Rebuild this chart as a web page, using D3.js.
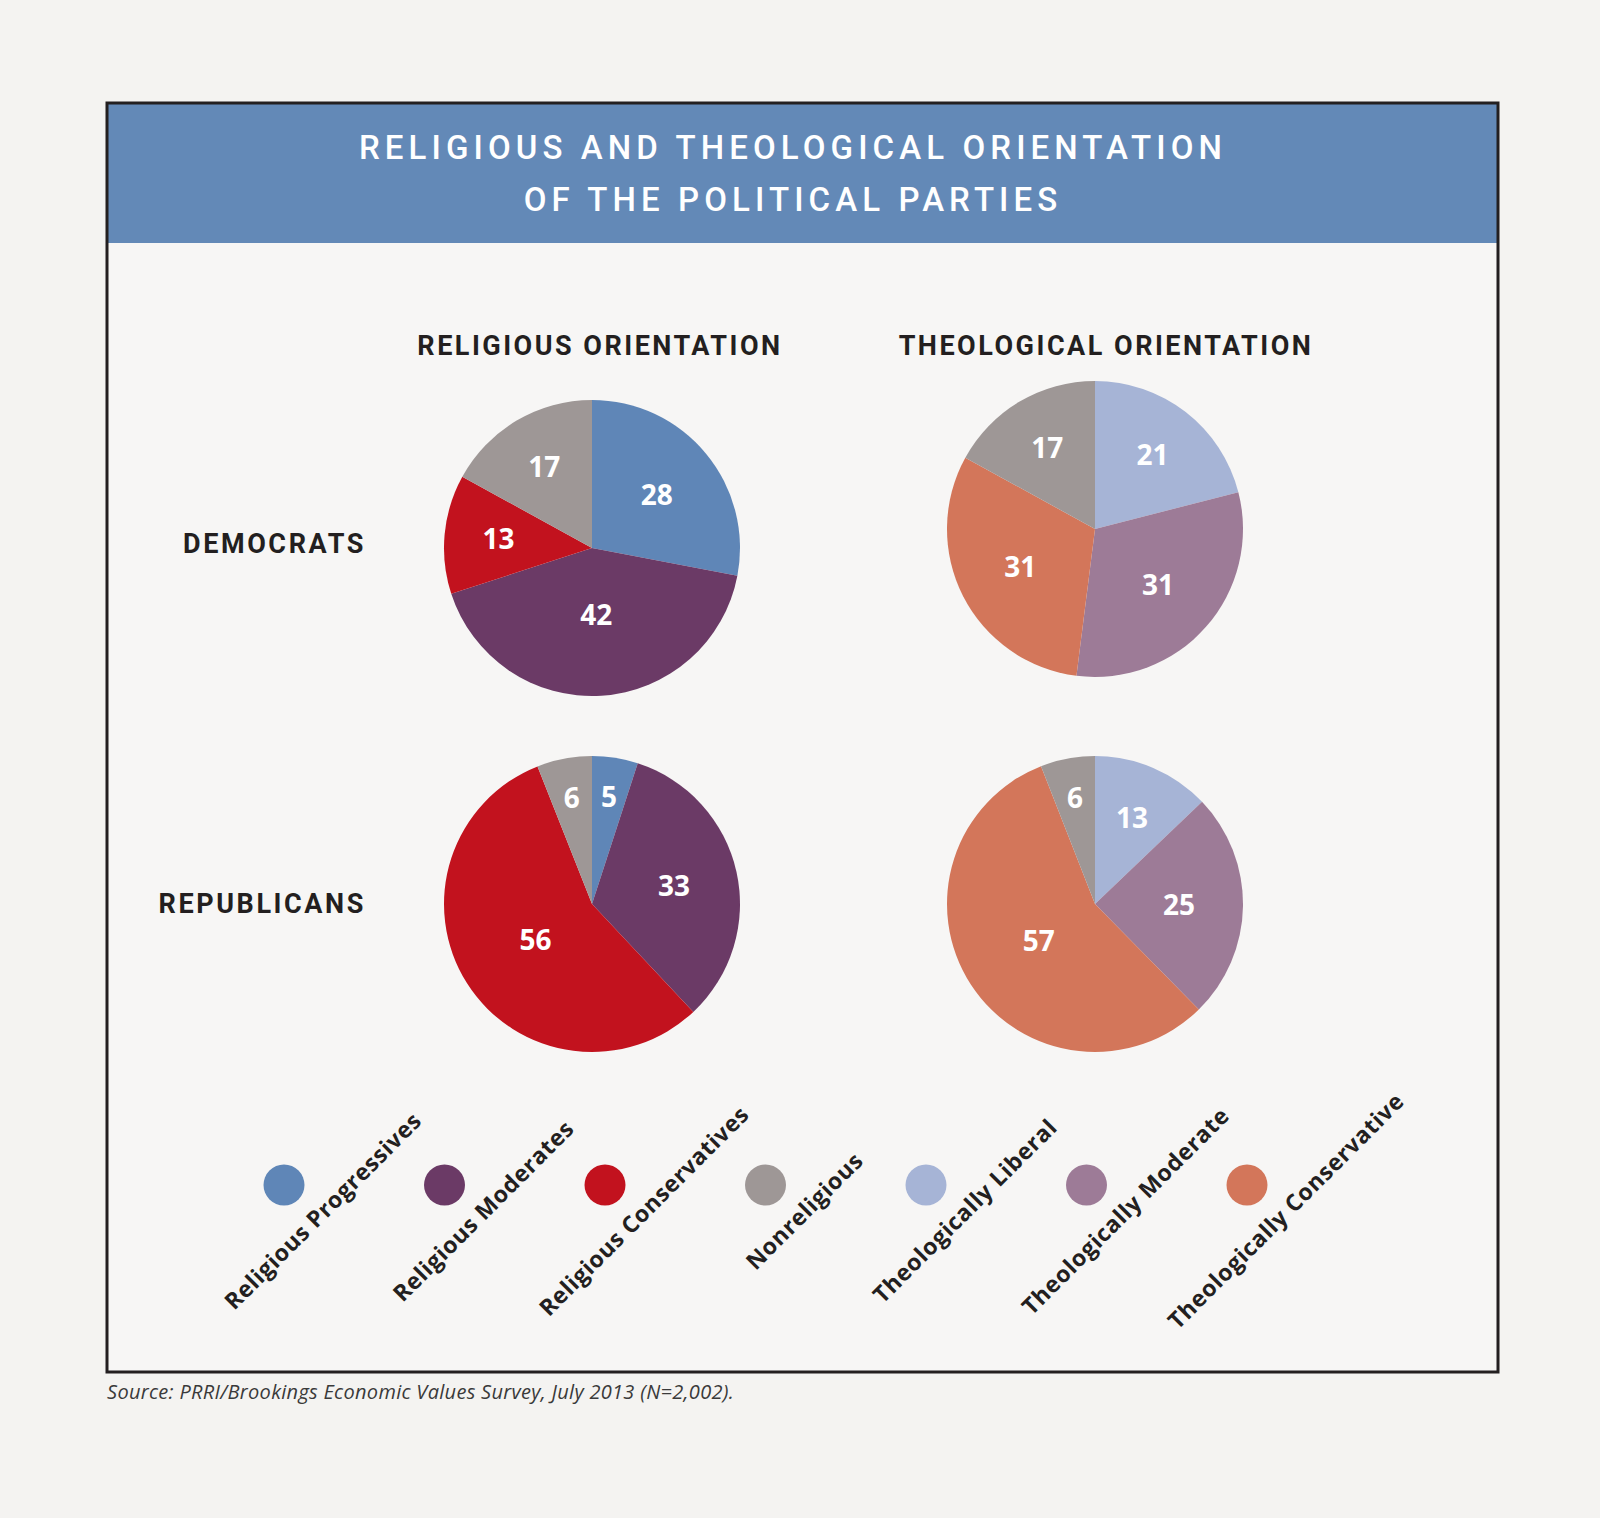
<!DOCTYPE html>
<html>
<head>
<meta charset="utf-8">
<script src="https://cdn.jsdelivr.net/npm/d3@7"></script>
<style>
    html, body { margin: 0; padding: 0; background: #f4f3f1; }
    svg { display: block; }
</style>
</head>
<body>
<div id="chart"></div>
<script>
// chart values
const titleLines = ["RELIGIOUS AND THEOLOGICAL ORIENTATION", "OF THE POLITICAL PARTIES"];
const columnTitles = ["RELIGIOUS ORIENTATION", "THEOLOGICAL ORIENTATION"];
const rowLabels = ["DEMOCRATS", "REPUBLICANS"];
const religiousCategories = ["Religious Progressives", "Religious Moderates", "Religious Conservatives", "Nonreligious"];
const theologicalCategories = ["Theologically Liberal", "Theologically Moderate", "Theologically Conservative", "Nonreligious"];
const demReligious = [28, 42, 13, 17];
const repReligious = [5, 33, 56, 6];
const demTheological = [21, 31, 31, 17];
const repTheological = [13, 25, 57, 6];
const legendCategories = ["Religious Progressives", "Religious Moderates", "Religious Conservatives", "Nonreligious",
    "Theologically Liberal", "Theologically Moderate", "Theologically Conservative"];
const sourceNote = "Source: PRRI/Brookings Economic Values Survey, July 2013 (N=2,002).";

const W = 1600, H = 1518;
const frame = {left: 107, top: 103, right: 1498, bottom: 1372};

const color = d3.scaleOrdinal()
    .domain(legendCategories)
    .range(["#5f86b7", "#6b3a66", "#c2121e", "#9e9796", "#a6b4d6", "#9d7b97", "#d3765a"]);

const svg = d3.select("#chart").append("svg")
    .attr("width", W)
    .attr("height", H);

svg.append("rect")
    .attr("width", W)
    .attr("height", H)
    .attr("fill", "#f4f3f1");

// frame + header band
svg.append("rect")
    .attr("x", frame.left)
    .attr("y", frame.top)
    .attr("width", frame.right - frame.left)
    .attr("height", frame.bottom - frame.top)
    .attr("fill", "#f7f6f5");

svg.append("rect")
    .attr("x", frame.left)
    .attr("y", frame.top)
    .attr("width", frame.right - frame.left)
    .attr("height", 140)
    .attr("fill", "#6389b7");

svg.append("rect")
    .attr("x", frame.left)
    .attr("y", frame.top)
    .attr("width", frame.right - frame.left)
    .attr("height", frame.bottom - frame.top)
    .attr("fill", "none")
    .attr("stroke", "#231f20")
    .attr("stroke-width", 3);

svg.selectAll(".title")
    .data(titleLines)
    .join("text")
    .attr("class", "title")
    .attr("x", 793)
    .attr("y", (d, i) => 159 + i * 52)
    .attr("text-anchor", "middle")
    .attr("fill", "#ffffff")
    .attr("font-family", "Roboto, sans-serif")
    .attr("font-weight", 500)
    .attr("font-size", 33)
    .attr("letter-spacing", 5.1)
    .text(d => d);

// layout
const colX = d3.scaleOrdinal().domain(columnTitles).range([592, 1095]);
const headX = d3.scaleOrdinal().domain(columnTitles).range([600, 1106]);
const radius = 148;

svg.selectAll(".col-title")
    .data(columnTitles)
    .join("text")
    .attr("class", "col-title")
    .attr("x", d => headX(d))
    .attr("y", 355)
    .attr("text-anchor", "middle")
    .attr("fill", "#231f20")
    .attr("font-family", "Roboto, sans-serif")
    .attr("font-weight", 700)
    .attr("font-size", 27)
    .attr("letter-spacing", 2.5)
    .text(d => d);

const rowY = d3.scaleOrdinal().domain(rowLabels).range([543, 903]);

svg.selectAll(".row-label")
    .data(rowLabels)
    .join("text")
    .attr("class", "row-label")
    .attr("x", 366)
    .attr("y", d => rowY(d) + 10)
    .attr("text-anchor", "end")
    .attr("fill", "#231f20")
    .attr("font-family", "Roboto, sans-serif")
    .attr("font-weight", 700)
    .attr("font-size", 27)
    .attr("letter-spacing", 2.6)
    .text(d => d);

const pies = [
    {values: demReligious, cats: religiousCategories, col: columnTitles[0], cy: 548},
    {values: demTheological, cats: theologicalCategories, col: columnTitles[1], cy: 529},
    {values: repReligious, cats: religiousCategories, col: columnTitles[0], cy: 904},
    {values: repTheological, cats: theologicalCategories, col: columnTitles[1], cy: 904}
];

const pie = d3.pie().sort(null).value(d => d.value);
const arc = d3.arc().innerRadius(0).outerRadius(radius);
// small slices get labels further out, big ones closer in
const labelRadius = d3.scaleThreshold().domain([10, 24, 40]).range([108, 94, 84, 67]);

pies.forEach(p => {
    let rows = p.values.map((v, i) => ({value: v, cat: p.cats[i]}));
    let g = svg.append("g")
        .attr("transform", `translate(${colX(p.col)},${p.cy})`);

    let slices = pie(rows);

    g.selectAll("path")
        .data(slices)
        .join("path")
        .attr("d", arc)
        .attr("fill", d => color(d.data.cat));

    g.selectAll("text")
        .data(slices)
        .join("text")
        .attr("transform", d => {
            let r = labelRadius(d.data.value);
            let c = d3.arc().innerRadius(r).outerRadius(r).centroid(d);
            return `translate(${c[0]},${c[1]})`;
        })
        .attr("text-anchor", "middle")
        .attr("dy", "0.36em")
        .attr("fill", "#ffffff")
        .attr("font-family", "'Open Sans', sans-serif")
        .attr("font-weight", 700)
        .attr("font-size", 28)
        .text(d => d.data.value);
});

// legend
const legendX = d3.scalePoint().domain(legendCategories).range([284, 1247]);
const legendY = 1185;

const legend = svg.selectAll(".legend")
    .data(legendCategories)
    .join("g")
    .attr("class", "legend")
    .attr("transform", d => `translate(${legendX(d)},${legendY})`);

legend.append("circle")
    .attr("r", 20.5)
    .attr("fill", d => color(d));

legend.append("text")
    .attr("transform", "translate(39,26) rotate(-45)")
    .attr("text-anchor", "middle")
    .attr("dy", "0.35em")
    .attr("fill", "#231f20")
    .attr("font-family", "'Open Sans', sans-serif")
    .attr("font-weight", 700)
    .attr("font-size", 23)
    .attr("letter-spacing", 0.6)
    .text(d => d);

svg.append("text")
    .attr("x", 107)
    .attr("y", 1399)
    .attr("fill", "#3a3a3a")
    .attr("font-family", "'Open Sans', sans-serif")
    .attr("font-style", "italic")
    .attr("font-weight", 400)
    .attr("font-size", 20)
    .attr("letter-spacing", 0.3)
    .text(sourceNote);
</script>
</body>
</html>
